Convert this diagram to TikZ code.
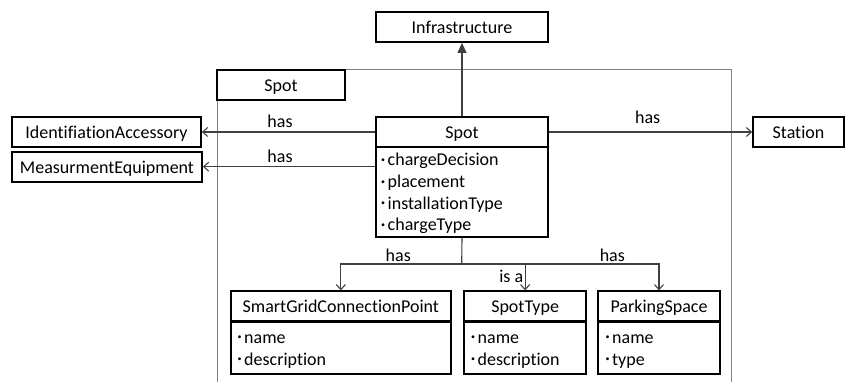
\documentclass[tikz,border=0pt]{standalone}
\usepackage{fontspec}
\setmainfont[Ligatures=NoCommon]{Carlito}
\usetikzlibrary{arrows.meta}
% small raised list bullet
\newcommand\attrbullet{\makebox[6.5pt][l]{\raisebox{3.5pt}{\fontsize{8}{8}\selectfont\textbullet}}}
\begin{document}
\begin{tikzpicture}[x=1pt,y=-1pt,
  every node/.style={font=\fontsize{18}{21.5}\selectfont, inner sep=0pt},
  box/.style={draw=black, line width=1.8pt, text height=13pt, text depth=0pt, minimum height=30pt},
  body/.style={draw=black, line width=1.8pt},
  attr/.style={anchor=base west},
  lbl/.style={anchor=base},
  conn/.style={draw=black!75, line width=1.1pt},
  has/.style={conn, -{Straight Barb[length=5pt,width=9pt]}},
  gen/.style={conn, -{Triangle[length=10pt,width=9pt]}},
  frame/.style={draw=black!50, line width=1pt}]
\useasboundingbox (0,0) rectangle (845,382);

% package frame
\draw[frame] (217,382) -- (217,70) -- (731.7,70) -- (731.7,382);
\node[box, fill=white, minimum width=128pt] (spotlbl) at (281,85) {Spot};

% outer classes
\node[box, minimum width=172pt] (infra) at (462,27) {Infrastructure};
\node[box, minimum width=189pt] (ident) at (106.5,132) {IdentifiationAccessory};
\node[box, minimum width=190pt] (meas) at (107,166.7) {MeasurmentEquipment};
\node[box, minimum width=91pt] (station) at (798.5,132) {Station};

% Spot class
\node[body, minimum width=172pt, minimum height=90pt] (spotbody) at (462,192) {};
\node[box, minimum width=172pt] (spothead) at (462,132) {Spot};
\node[attr] (sa1) at (381,166) {\attrbullet chargeDecision};
\node[attr] (sa2) at (381,187.5) {\attrbullet placement};
\node[attr] (sa3) at (381,209) {\attrbullet installationType};
\node[attr] (sa4) at (381,230.5) {\attrbullet chargeType};

% lower classes
\node[body, minimum width=220.3pt, minimum height=52.6pt] (sgcpbody) at (340.85,348) {};
\node[box, minimum width=220.3pt] (sgcphead) at (340.85,306.3) {SmartGridConnectionPoint};
\node[attr] (ga1) at (237.5,343.3) {\attrbullet name};
\node[attr] (ga2) at (237.5,365) {\attrbullet description};

\node[body, minimum width=121.7pt, minimum height=52.6pt] (stbody) at (525.15,348) {};
\node[box, minimum width=121.7pt] (sthead) at (525.15,306.3) {SpotType};
\node[attr] (ta1) at (471,343.3) {\attrbullet name};
\node[attr] (ta2) at (471,365) {\attrbullet description};

\node[body, minimum width=122.6pt, minimum height=52.6pt] (psbody) at (659,348) {};
\node[box, minimum width=122.6pt] (pshead) at (659,306.3) {ParkingSpace};
\node[attr] (pa1) at (605.5,343.3) {\attrbullet name};
\node[attr] (pa2) at (605.5,365) {\attrbullet type};

% connectors
\draw[gen] (spothead.north) -- (infra.south);
\draw[has] (spothead.west) -- (ident.east);
\draw[has] (meas.east -| spotbody.west) -- (meas.east);
\draw[has] (spothead.east) -- (station.west);

\coordinate (junc) at (461.7,264);
\draw[conn] (spotbody.south) -- (junc);
\draw[has] (junc) -| (sgcphead.north);
\draw[has] (junc) -| (pshead.north);
\draw[has] (junc -| sthead.north) -- (sthead.north);

% connector labels
\node[lbl] (l1) at (280,128) {has};
\node[lbl] (l2) at (280,163) {has};
\node[lbl] (l3) at (647.7,123.3) {has};
\node[lbl] (l4) at (398.3,261.7) {has};
\node[lbl] (l5) at (511.3,282.7) {is a};
\node[lbl] (l6) at (612.3,261.7) {has};
\end{tikzpicture}
\end{document}
